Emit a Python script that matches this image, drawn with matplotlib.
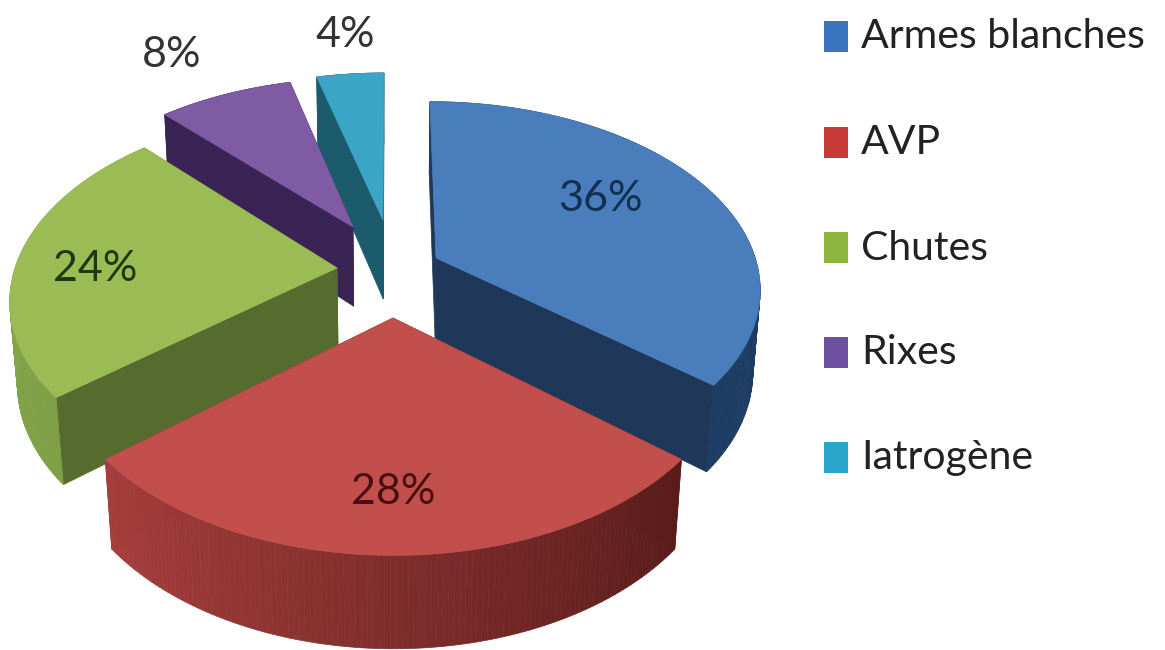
import numpy as np
import matplotlib
matplotlib.use("Agg")
import matplotlib.pyplot as plt
from matplotlib.colors import to_rgb
from matplotlib.patches import Rectangle

# Causes and their share in percent
categories = ["Armes blanches", "AVP", "Chutes", "Rixes", "Iatrogène"]
shares = [36, 28, 24, 8, 4]

# Colours of the top face, the radial walls and the rim (start and end of the rim gradient)
top_colors = ["#4A7DBC", "#C24F4C", "#9BBB55", "#7F5BA3", "#3BA5C6"]
wall_colors = ["#1F3759", "#6E2A2A", "#566C2E", "#3A2455", "#1C5B6C"]
rim_colors = [("#1D3C64", "#1D3C64"), ("#581C1A", "#A63F3D"), ("#7E9F45", "#8CAC4E"),
              ("#3A2455", "#3A2455"), ("#1C5B6C", "#1C5B6C")]
legend_colors = ["#3A74BE", "#C73A38", "#8DB63F", "#6F4F9F", "#2AA6CC"]
label_colors = ["#12304F", "#4A0F12", "#1C3A10", "#333333", "#333333"]

# Explode offset of every slice, in pixels on the screen
explode = [(46, -14), (3, 46), (-53, -4), (-37, -45), (-7, -52)]
label_pos = [(600, 199), (393, 492), (95, 269), (172, 55), (345, 35)]
legend_y = [37, 143, 248, 353, 458]

# Camera used to project the pie disk onto the screen
cx, cy = 390, 272
scale_x, scale_y = 323, 184.6
persp = 0.155
depth = 83
persp_depth = 0.02

text_font = "Lato"


def to_disk(dx, dy):
    # screen offset -> position on the disk plane
    y = -dy / (scale_y + persp * dy)
    x = dx * (1 + persp * y) / scale_x
    return x, y


def project(x, y, low=False):
    w = 1 + persp * y
    if low:
        w = w + persp_depth
        return cx + scale_x * x / w, cy + (depth - scale_y * y) / w
    return cx + scale_x * x / w, cy - scale_y * y / w


def draw_slice(ax, start, end, off, top, wall, rim):
    x0, y0 = to_disk(*off)
    theta = np.linspace(start, end, 120)
    x = x0 + np.sin(theta)
    y = y0 + np.cos(theta)
    top_x, top_y = project(x, y)
    low_x, low_y = project(x, y, low=True)
    ax_top, ay_top = project(x0, y0)
    ax_low, ay_low = project(x0, y0, low=True)

    # the walls, farthest first
    walls = [(y0 + 0.5 * np.cos(start), [ax_top, top_x[0], low_x[0], ax_low], [ay_top, top_y[0], low_y[0], ay_low]),
             (y0 + 0.5 * np.cos(end), [ax_top, top_x[-1], low_x[-1], ax_low], [ay_top, top_y[-1], low_y[-1], ay_low])]
    walls.sort(key=lambda item: -item[0])
    for _, wx, wy in walls:
        ax.fill(wx, wy, color=wall, lw=0.5, zorder=2)

    # rim as thin strips so that the shade can change along it
    c0, c1 = np.array(to_rgb(rim[0])), np.array(to_rgb(rim[1]))
    for i in range(len(theta) - 1):
        shade = c0 + (c1 - c0) * i / (len(theta) - 2)
        ax.fill([top_x[i], top_x[i + 1], low_x[i + 1], low_x[i]],
                [top_y[i], top_y[i + 1], low_y[i + 1], low_y[i]],
                color=shade, lw=0.5, zorder=2)

    ax.fill(np.r_[ax_top, top_x], np.r_[ay_top, top_y], color=top, lw=0.5, zorder=2)


fig = plt.figure(figsize=(11.65, 6.5), dpi=100)
ax = fig.add_axes([0, 0, 1, 1])
ax.set_xlim(0, 1165)
ax.set_ylim(650, 0)
ax.axis("off")

# Slice angles run clockwise from the top
edges = np.r_[0, np.cumsum(shares)] / np.sum(shares) * 2 * np.pi

# Painter's order: the back slices first, the front one last
for i in [4, 3, 0, 2, 1]:
    draw_slice(ax, edges[i], edges[i + 1], explode[i], top_colors[i], wall_colors[i], rim_colors[i])

for i, share in enumerate(shares):
    ax.text(label_pos[i][0], label_pos[i][1], f"{share}%", color=label_colors[i],
            fontsize=31, family=text_font, ha="center", va="center", zorder=5)

for name, color, ypos in zip(categories, legend_colors, legend_y):
    ax.add_patch(Rectangle((824, ypos - 16), 24, 31, color=color, lw=0))
    ax.text(861, ypos, name, color="#222222", fontsize=29.5, family=text_font, ha="left", va="center")

fig.savefig("out.png", dpi=100)
